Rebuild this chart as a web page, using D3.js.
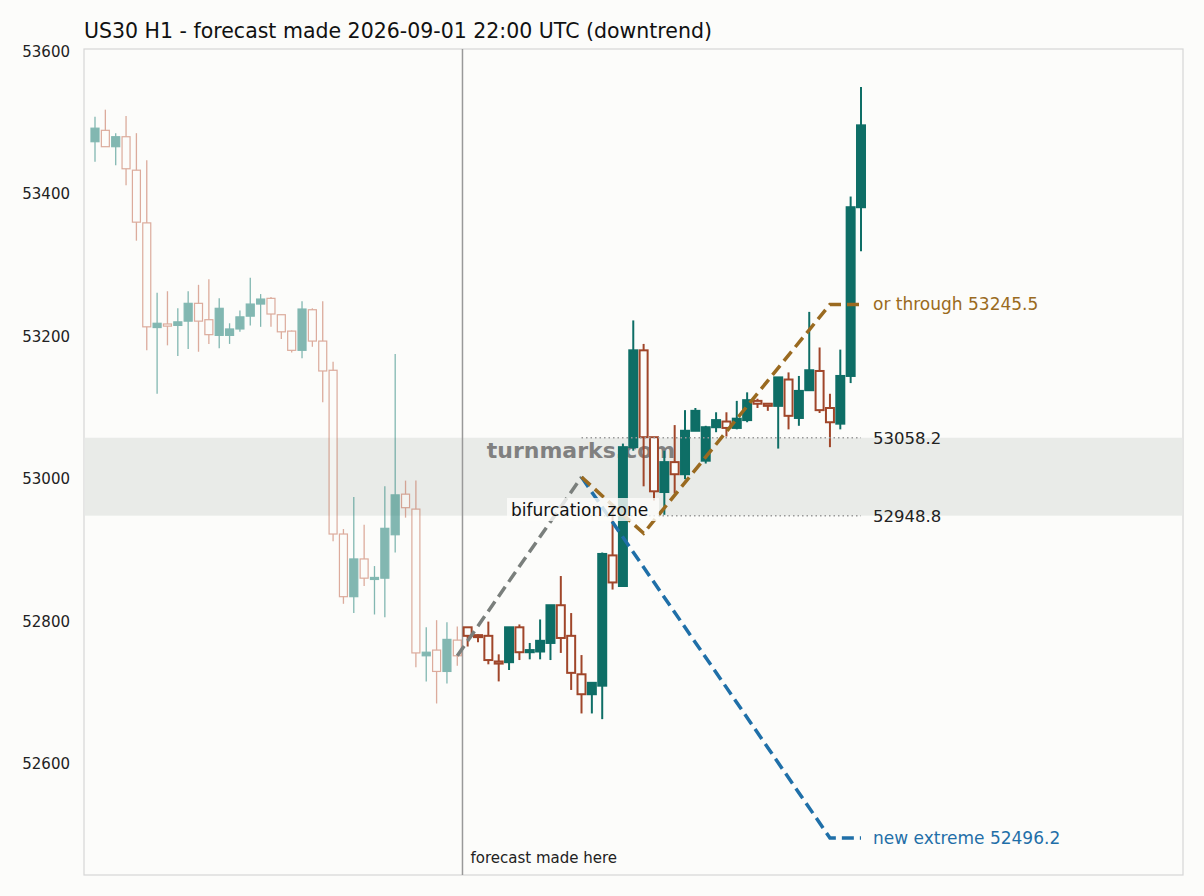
<!DOCTYPE html>
<html>
<head>
<meta charset="utf-8">
<script src="https://cdn.jsdelivr.net/npm/d3@7"></script>
<style>
  body { margin: 0; background: #fcfcfa; font-family: "DejaVu Sans", sans-serif; }
</style>
</head>
<body>
<svg id="chart" width="1204" height="896"></svg>
<script>
// OHLC candles, history (faded) then forecast path
const histOpen  = [53474,53490,53467,53481,53434,53360,53213,53218,53216,53222,53247,53224,53202,53202,53211,53229,53246,53254,53231,53208,53181,53238,53194,53153,52923,52835,52888,52860,52861,52922,52979,52958,52752,52760,52730,52774];
const histClose = [53493,53467,53481,53436,53361,53214,53219,53215,53221,53247,53222,53203,53240,53211,53228,53246,53253,53232,53207,53181,53239,53194,53152,52923,52835,52888,52861,52862,52931,52978,52960,52756,52757,52730,52775,52752];
const histHigh  = [53509,53519,53486,53510,53486,53448,53262,53264,53240,53264,53273,53281,53254,53219,53237,53283,53260,53256,53231,53209,53250,53240,53250,53165,52930,52975,52936,52878,52990,53176,52998,52998,52792,52802,52799,52793];
const histLow   = [53446,53467,53441,53413,53335,53181,53120,53188,53173,53183,53179,53190,53184,53190,53207,53216,53214,53214,53197,53178,53170,53186,53108,52913,52825,52812,52850,52810,52806,52897,52946,52736,52716,52685,52713,52738];

const futOpen  = [52792,52781,52780,52744,52743,52792,52757,52758,52770,52823,52780,52726,52698,52710,52893,52850,53045,53181,53059,52982,53024,53007,53068,53026,53073,53081,53072,53083,53110,53106,53103,53140,53086,53125,53152,53100,53078,53145,53382];
const futClose = [52780,52779,52746,52741,52792,52757,52760,52773,52823,52777,52728,52698,52714,52895,52855,53045,53181,53059,52983,53024,53007,53068,53096,53073,53083,53072,53085,53111,53106,53103,53143,53089,53124,53153,53097,53080,53145,53382,53497];
const futHigh  = [52792,52782,52800,52754,52792,52796,52770,52803,52823,52864,52812,52753,52714,52897,52960,53050,53223,53190,53059,53040,53076,53097,53100,53075,53094,53094,53110,53122,53113,53106,53143,53150,53145,53235,53185,53120,53182,53397,53551];
const futLow   = [52765,52771,52740,52716,52732,52746,52747,52747,52746,52756,52704,52671,52671,52663,52845,52850,53040,52990,52970,52950,52980,53000,53068,53022,53066,53060,53070,53080,53100,53096,53043,53070,53075,53125,53093,53045,53070,53135,53320];

// scenario paths: [candle index, price]
const basePath = [[35, 52752], [47, 53003]];
const downPath = [[47, 53003], [71, 52496.2], [74, 52496.2]];
const upPath   = [[47, 53003], [53, 52924], [71, 53245.5], [74, 53245.5]];
const zoneLow = 52948.8, zoneHigh = 53058.2;
const yTicks = [52600, 52800, 53000, 53200, 53400, 53600];

const svg = d3.select("#chart");
const m = { left: 84, right: 1183, top: 49, bottom: 875 };

const x = d3.scaleLinear().domain([0, 74]).range([95, 861]);
const y = d3.scaleLinear().domain([52600, 53600]).range([764, 52]);

svg.append("rect").attr("x", m.left).attr("y", m.top)
  .attr("width", m.right - m.left).attr("height", m.bottom - m.top)
  .attr("fill", "#fcfcfa").attr("stroke", "#d6d6d6").attr("stroke-width", 1.2);

// zone band
svg.append("rect").attr("x", m.left + 0.6).attr("width", m.right - m.left - 1.2)
  .attr("y", y(zoneHigh)).attr("height", y(zoneLow) - y(zoneHigh))
  .attr("fill", "#e9ebe8");

// watermark
svg.append("text").attr("x", 581).attr("y", 458).attr("text-anchor", "middle")
  .attr("font-size", 22).attr("font-weight", "bold").attr("fill", "#808080")
  .text("turnmarks.com");

// y axis labels
svg.selectAll(".yt").data(yTicks).join("text")
  .attr("x", 70).attr("y", d => y(d) + 5).attr("text-anchor", "end")
  .attr("font-size", 15).attr("fill", "#222").text(d => d);

// forecast divider
svg.append("line").attr("x1", x(35.5)).attr("x2", x(35.5))
  .attr("y1", m.top).attr("y2", m.bottom).attr("stroke", "#999").attr("stroke-width", 1.5);
svg.append("text").attr("x", x(35.5) + 8).attr("y", 863)
  .attr("font-size", 15).attr("fill", "#222").text("forecast made here");

function candles(open, close, high, low, start, faded) {
  const g = svg.append("g").attr("opacity", faded ? 0.55 : 1);
  const teal = faded ? "#1f8077" : "#0e6e66";
  const red = faded ? "#c26a50" : "#a0462a";
  const w = 8;
  open.forEach((o, k) => {
    const c = close[k], i = start + k, up = c >= o;
    const col = up ? teal : red;
    g.append("line").attr("x1", x(i)).attr("x2", x(i))
      .attr("y1", y(high[k])).attr("y2", y(low[k]))
      .attr("stroke", col).attr("stroke-width", faded ? 1.3 : 2);
    const top = y(Math.max(o, c)), h = Math.max(2, Math.abs(y(o) - y(c)));
    g.append("rect").attr("x", x(i) - w / 2).attr("y", top)
      .attr("width", w).attr("height", h)
      .attr("fill", up ? col : "#fcfcfa").attr("stroke", col)
      .attr("stroke-width", faded ? 1.2 : 2);
  });
}
candles(histOpen, histClose, histHigh, histLow, 0, true);
candles(futOpen, futClose, futHigh, futLow, 36, false);

// zone dotted lines
[zoneHigh, zoneLow].forEach(v => {
  svg.append("line").attr("x1", x(47)).attr("x2", x(74))
    .attr("y1", y(v)).attr("y2", y(v))
    .attr("stroke", "#999").attr("stroke-width", 1.5).attr("stroke-dasharray", "1.5,3");
  svg.append("text").attr("x", 873).attr("y", y(v) + 6)
    .attr("font-size", 16.5).attr("fill", "#222").text(v.toFixed(1));
});

const line = d3.line().x(d => x(d[0])).y(d => y(d[1]));
function path(pts, col) {
  svg.append("path").attr("d", line(pts)).attr("fill", "none")
    .attr("stroke", col).attr("stroke-width", 3.5).attr("stroke-dasharray", "12,6");
}
path(basePath, "#7a7f7c");
path(downPath, "#1f6fa8");
path(upPath, "#9a6a20");

// bifurcation label
const bl = svg.append("g");
bl.append("rect").attr("x", 507).attr("y", 498).attr("width", 152).attr("height", 23)
  .attr("fill", "#fcfcfa").attr("opacity", 0.8);
bl.append("text").attr("x", 511).attr("y", 516).attr("font-size", 17).attr("fill", "#111")
  .text("bifurcation zone");

svg.append("text").attr("x", 873).attr("y", y(53245.5) + 6).attr("font-size", 17)
  .attr("fill", "#9a6a20").text("or through 53245.5");
svg.append("text").attr("x", 873).attr("y", y(52496.2) + 6).attr("font-size", 17)
  .attr("fill", "#1f6fa8").text("new extreme 52496.2");

svg.append("text").attr("x", 84).attr("y", 38).attr("font-size", 20.5).attr("fill", "#111")
  .text("US30 H1 - forecast made 2026-09-01 22:00 UTC (downtrend)");
</script>
</body>
</html>
